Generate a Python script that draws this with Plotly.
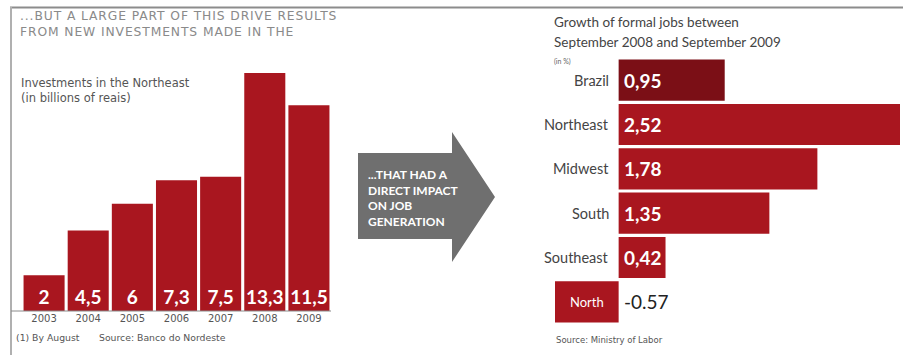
import plotly.graph_objects as go

# ---------------- data ----------------
years = ["2003", "2004", "2005", "2006", "2007", "2008", "2009"]
investments = [2, 4.5, 6, 7.3, 7.5, 13.3, 11.5]
investment_labels = ["2", "4,5", "6", "7,3", "7,5", "13,3", "11,5"]

regions = ["Brazil", "Northeast", "Midwest", "South", "Southeast", "North"]
job_growth = [0.95, 2.52, 1.78, 1.35, 0.42, -0.57]
growth_labels = ["0,95", "2,52", "1,78", "1,35", "0,42", "-0.57"]

# ---------------- helpers ----------------
W, H = 903, 355


def px(x):
    return x / W


def py(y):
    return 1 - y / H


FONT = "Lato"
WIDE = "DejaVu Sans"
RED = "#a9161f"
DARK = "#7b0f16"
ARROW = "#6f6f6f"

fig = go.Figure()

# Left: investments bar chart
fig.add_trace(go.Bar(
    x=years, y=investments,
    text=investment_labels, textposition="inside", insidetextanchor="start",
    constraintext="none", textangle=0,
    textfont=dict(color="white", size=19, family=FONT, weight="bold"),
    marker=dict(color=RED, line=dict(width=0)),
    xaxis="x", yaxis="y", hoverinfo="skip", showlegend=False,
))

# Right: job growth horizontal bars
bar_colors = [DARK if r == "Brazil" else RED for r in regions]
fig.add_trace(go.Bar(
    x=job_growth, y=regions, orientation="h",
    marker=dict(color=bar_colors, line=dict(width=0)),
    xaxis="x2", yaxis="y2", hoverinfo="skip", showlegend=False,
))

annotations = []

# value + category labels for the right chart
for r, v, lab in zip(regions, job_growth, growth_labels):
    annotations.append(dict(
        x=0, y=r, xref="x2", yref="y2", text=lab, showarrow=False,
        xanchor="left", xshift=3,
        font=dict(family=FONT, size=19, weight="bold" if v > 0 else "normal",
                  color="white" if v > 0 else "#222222"),
    ))
    if v > 0:
        annotations.append(dict(
            x=0, y=r, xref="x2", yref="y2", text=r, showarrow=False,
            xanchor="right", xshift=-8,
            font=dict(family=FONT, size=14.5, color="#444444"),
        ))
    else:
        annotations.append(dict(
            x=v / 2, y=r, xref="x2", yref="y2", text=r, showarrow=False,
            xanchor="center",
            font=dict(family=FONT, size=13, color="white"),
        ))


def txt(x, y, s, size, color, family=FONT, weight="normal", **kw):
    annotations.append(dict(
        x=px(x), y=py(y), xref="paper", yref="paper", text=s,
        showarrow=False, xanchor=kw.pop("xanchor", "left"), yanchor="middle",
        font=dict(family=family, size=size, color=color, weight=weight),
        align="left", **kw,
    ))


# left titles
txt(18, 23.5,
    '<span style="letter-spacing:0.9px">...BUT A LARGE PART OF THIS DRIVE RESULTS</span><br>'
    '<span style="letter-spacing:0.9px">FROM NEW INVESTMENTS MADE IN THE</span>',
    12.3, "#8a8a8a", family=WIDE)
txt(19, 90.5, "Investments in the Northeast<br>(in billions of reais)", 11.5, "#555555",
    family=WIDE)
txt(14, 337, "(1) By August", 9.3, "#555555", family=WIDE)
txt(97, 337, "Source: Banco do Nordeste", 9.3, "#555555", family=WIDE)

# arrow text
txt(366, 198, "...THAT HAD A<br>DIRECT IMPACT<br>ON JOB<br>GENERATION", 12, "white",
    weight="bold")

# right titles
txt(552, 22, "Growth of formal jobs between", 13.5, "#444444")
txt(552, 42, "September 2008 and September 2009", 13.5, "#444444")
txt(552, 61, "(in %)", 7, "#666666")
txt(554, 340, "Source: Ministry of Labor", 8.5, "#555555", family=WIDE)

arrow_path = (
    f"M {px(358)},{py(153)} L {px(452)},{py(153)} L {px(452)},{py(132)} "
    f"L {px(495)},{py(197)} L {px(452)},{py(262)} L {px(452)},{py(239)} "
    f"L {px(358)},{py(239)} Z"
)

shapes = [
    # frame lines
    dict(type="line", xref="paper", yref="paper", x0=px(10), x1=1, y0=py(7.5), y1=py(7.5),
         line=dict(color="#8c8c8c", width=2)),
    dict(type="line", xref="paper", yref="paper", x0=px(11), x1=px(11), y0=py(7), y1=0,
         line=dict(color="#b0b0b0", width=2)),
    # baseline
    dict(type="line", xref="paper", yref="paper", x0=px(11), x1=px(331), y0=py(311), y1=py(311),
         line=dict(color="#8a8a8a", width=1)),
    # arrow
    dict(type="path", xref="paper", yref="paper", path=arrow_path,
         fillcolor=ARROW, line=dict(width=0), layer="below"),
]

fig.update_layout(
    width=W, height=H,
    margin=dict(l=0, r=0, t=0, b=0),
    paper_bgcolor="white", plot_bgcolor="rgba(0,0,0,0)",
    bargap=0.07,
    showlegend=False,
    xaxis=dict(domain=[px(22), px(331)], type="category", anchor="y",
               showgrid=False, showline=False, zeroline=False, ticks="",
               tickfont=dict(family=WIDE, size=10, color="#555555"), fixedrange=True),
    yaxis=dict(domain=[py(311), py(73)], range=[0, 13.3], visible=False,
               anchor="x", fixedrange=True),
    xaxis2=dict(domain=[px(555), px(900)], range=[-0.57, 2.52], visible=False,
                anchor="y2", fixedrange=True),
    yaxis2=dict(domain=[py(324), py(58)], type="category", autorange="reversed",
                visible=False, anchor="x2", fixedrange=True),
    annotations=annotations,
    shapes=shapes,
)

fig.write_html("out.html")
